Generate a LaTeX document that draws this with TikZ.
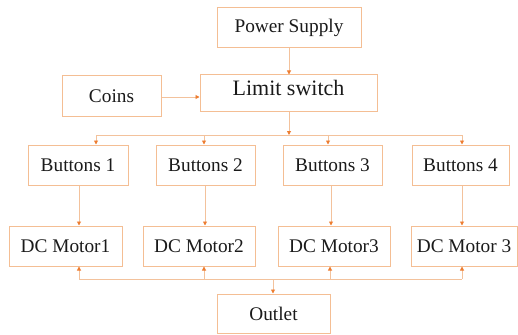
\documentclass[tikz,border=0pt]{standalone}
\usepackage{fontspec}
\setmainfont{Liberation Serif}
\usetikzlibrary{arrows.meta}
\definecolor{boxline}{HTML}{F4BE94}
\definecolor{wire}{HTML}{F3C29C}
\definecolor{tipc}{HTML}{ED7D31}
\definecolor{txt}{HTML}{1A1A1A}
\begin{document}
\begin{tikzpicture}[x=1pt,y=-1pt,
  block/.style={draw=boxline,line width=1pt,rectangle,inner sep=0pt,
    text=txt,font=\fontsize{19.3}{22}\selectfont},
  wireline/.style={draw=wire,line width=0.9pt},
  feed/.style={wireline,-{Triangle[length=4pt,width=4pt,color=tipc]}}]
\useasboundingbox (0,0) rectangle (518,334);

% top of the chain
\node[block,minimum width=144pt,minimum height=40pt] (ps) at (289,28) {Power Supply};
\node[block,minimum width=177pt,minimum height=36pt] (ls) at (288.5,93) {};
\node[text=txt,font=\fontsize{22}{26}\selectfont,inner sep=0pt] (lstext) at (288.5,88) {Limit switch};
\node[block,minimum width=99pt,minimum height=40pt] (coins) at (111.5,96) {Coins};

% buttons row
\node[block,minimum width=100pt,minimum height=40pt] (b1) at (78,165) {Buttons 1};
\node[block,minimum width=99pt,minimum height=40pt] (b2) at (205.5,165) {Buttons 2};
\node[block,minimum width=99pt,minimum height=40pt] (b3) at (332.5,165) {Buttons 3};
\node[block,minimum width=97pt,minimum height=40pt] (b4) at (460.5,165) {Buttons 4};

% motors row
\node[block,minimum width=113pt,minimum height=40pt] (m1) at (65.5,246) {DC Motor1};
\node[block,minimum width=112pt,minimum height=40pt] (m2) at (199,246) {DC Motor2};
\node[block,minimum width=112pt,minimum height=40pt] (m3) at (334,246) {DC Motor3};
\node[block,minimum width=106pt,minimum height=40pt] (m4) at (464,246) {DC Motor 3};

% outlet
\node[block,minimum width=113pt,minimum height=39pt] (out) at (273.5,313.5) {Outlet};

% supply and coin inputs
\draw[feed] (ps.south) -- (ps.south |- ls.north);
\draw[feed] (coins.east |- 0,97) -- (ls.west |- 0,97);

% distribution bus to the buttons
\coordinate (bus) at (289,135);
\coordinate (d1) at (96,135);
\coordinate (d2) at (204,135);
\coordinate (d3) at (328,135);
\coordinate (d4) at (462,135);
\draw[feed] (ls.south -| bus) -- (bus);
\draw[wireline] (d1) -- (d4);
\draw[feed] (d1) -- (d1 |- b1.north);
\draw[feed] (d2) -- (d2 |- b2.north);
\draw[feed] (d3) -- (d3 |- b3.north);
\draw[feed] (d4) -- (d4 |- b4.north);

% buttons drive the motors
\draw[feed] (79,0 |- b1.south) -- (79,0 |- m1.north);
\draw[feed] (205,0 |- b2.south) -- (205,0 |- m2.north);
\draw[feed] (331,0 |- b3.south) -- (331,0 |- m3.north);
\draw[feed] (462,0 |- b4.south) -- (462,0 |- m4.north);

% return bus between motors and outlet
\coordinate (r1) at (79,279);
\coordinate (r2) at (204,279);
\coordinate (r3) at (330,279);
\coordinate (r4) at (462,279);
\coordinate (ro) at (273,279);
\draw[wireline] (r1) -- (r4);
\draw[feed] (r1) -- (r1 |- m1.south);
\draw[feed] (r2) -- (r2 |- m2.south);
\draw[feed] (r3) -- (r3 |- m3.south);
\draw[feed] (r4) -- (r4 |- m4.south);
\draw[feed] (ro) -- (ro |- out.north);
\end{tikzpicture}
\end{document}
